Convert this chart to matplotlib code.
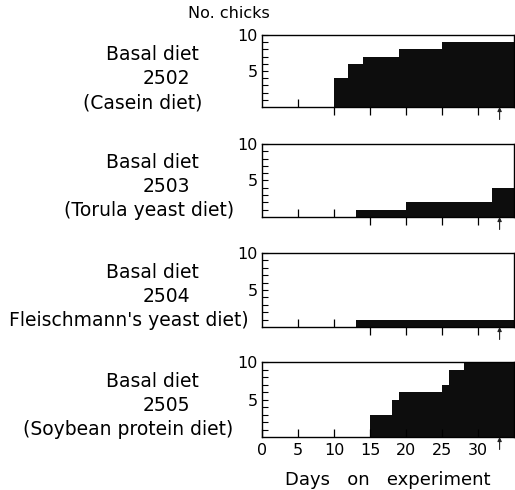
#!/usr/bin/env python3
"""Cumulative number of chicks affected vs. days on experiment, four basal diets."""
import matplotlib
matplotlib.use("Agg")
import matplotlib.pyplot as plt

# step data: day on which the count changes, and the new count
days_2502 = [10, 12, 14, 19, 25]
chicks_2502 = [4, 6, 7, 8, 9]
days_2503 = [13, 20, 32]
chicks_2503 = [1, 2, 4]
days_2504 = [13]
chicks_2504 = [1]
days_2505 = [15, 18, 19, 25, 26, 28]
chicks_2505 = [3, 5, 6, 7, 9, 10]

diet_lines = [
    ["Basal diet", "2502", "(Casein diet)"],
    ["Basal diet", "2503", "(Torula yeast diet)"],
    ["Basal diet", "2504", "Fleischmann's yeast diet)"],
    ["Basal diet", "2505", "(Soybean protein diet)"],
]
x_ticks = [0, 5, 10, 15, 20, 25, 30]
end_day = 33      # arrow marks the end of the experiment
x_max = 35

W, H = 515, 490
plt.rcParams["font.family"] = ["DejaVu Sans"]
fig = plt.figure(figsize=(W / 100, H / 100), dpi=100)

# axes boxes in pixels: (top, bottom)
rows = [(35, 107), (144, 217), (253, 327), (362, 437)]
# x-centre of each label line (pixels), third line differs per panel
line3_x = [143, 149, 129, 128]
series = [(days_2502, chicks_2502), (days_2503, chicks_2503),
          (days_2504, chicks_2504), (days_2505, chicks_2505)]

left_px, right_px = 262, 514
for i, ((top, bot), (d, c)) in enumerate(zip(rows, series)):
    ax = fig.add_axes([left_px / W, 1 - bot / H, (right_px - left_px) / W, (bot - top) / H])
    xs = [0] + list(d) + [x_max]
    ys = [0] + list(c) + [c[-1]]
    ax.fill_between(xs, ys, step="post", color="#0d0d0d", linewidth=0)
    ax.set_xlim(0, x_max)
    ax.set_ylim(0, 10)

    # y axis: labels at 5 and 10, small inward ticks every chick
    ax.set_yticks([5, 10])
    ax.set_yticklabels(["5", "10"], fontsize=11.5)
    ax.set_yticks(range(1, 10), minor=True)
    ax.tick_params(axis="y", which="both", direction="in", length=4, width=0.8, pad=3, right=False)

    last = i == len(rows) - 1
    if last:
        ax.set_xticks(x_ticks)
        ax.set_xticklabels([str(t) for t in x_ticks], fontsize=11.5)
        ax.tick_params(axis="x", which="major", direction="in", length=6, width=0.9, pad=4)
        ax.set_xlabel("Days   on   experiment", fontsize=13, labelpad=10)
    else:
        inner = [t for t in x_ticks[1:] if t < d[0]]
        outer = [t for t in x_ticks[1:] if t >= d[0]]
        ax.set_xticks(inner)
        ax.set_xticklabels([])
        ax.set_xticks(outer, minor=True)
        ax.tick_params(axis="x", which="major", direction="in", length=6, width=0.9)
        ax.tick_params(axis="x", which="minor", direction="out", length=6, width=0.9)

    for sp in ax.spines.values():
        sp.set_linewidth(1.0)

    ax.annotate("", xy=(end_day, 0), xycoords="data",
                xytext=(0, -9), textcoords="offset points",
                arrowprops=dict(arrowstyle="-|>", lw=0.8, color="#222222",
                                mutation_scale=6, shrinkA=0, shrinkB=0))

    # diet labels on the left
    ymid = (top + bot) / 2
    lines = diet_lines[i]
    xs_lbl = [152, 166, line3_x[i]]
    for j, (txt, xc) in enumerate(zip(lines, xs_lbl)):
        fig.text(xc / W, 1 - (ymid - 24 + 24 * j + (2 if i == 0 else 0) + 6) / H, txt,
                 ha="center", va="center", fontsize=13.5)

fig.text(229 / W, 1 - 14 / H, "No. chicks", ha="center", va="center", fontsize=11.5)

fig.savefig("out.png", dpi=100)
